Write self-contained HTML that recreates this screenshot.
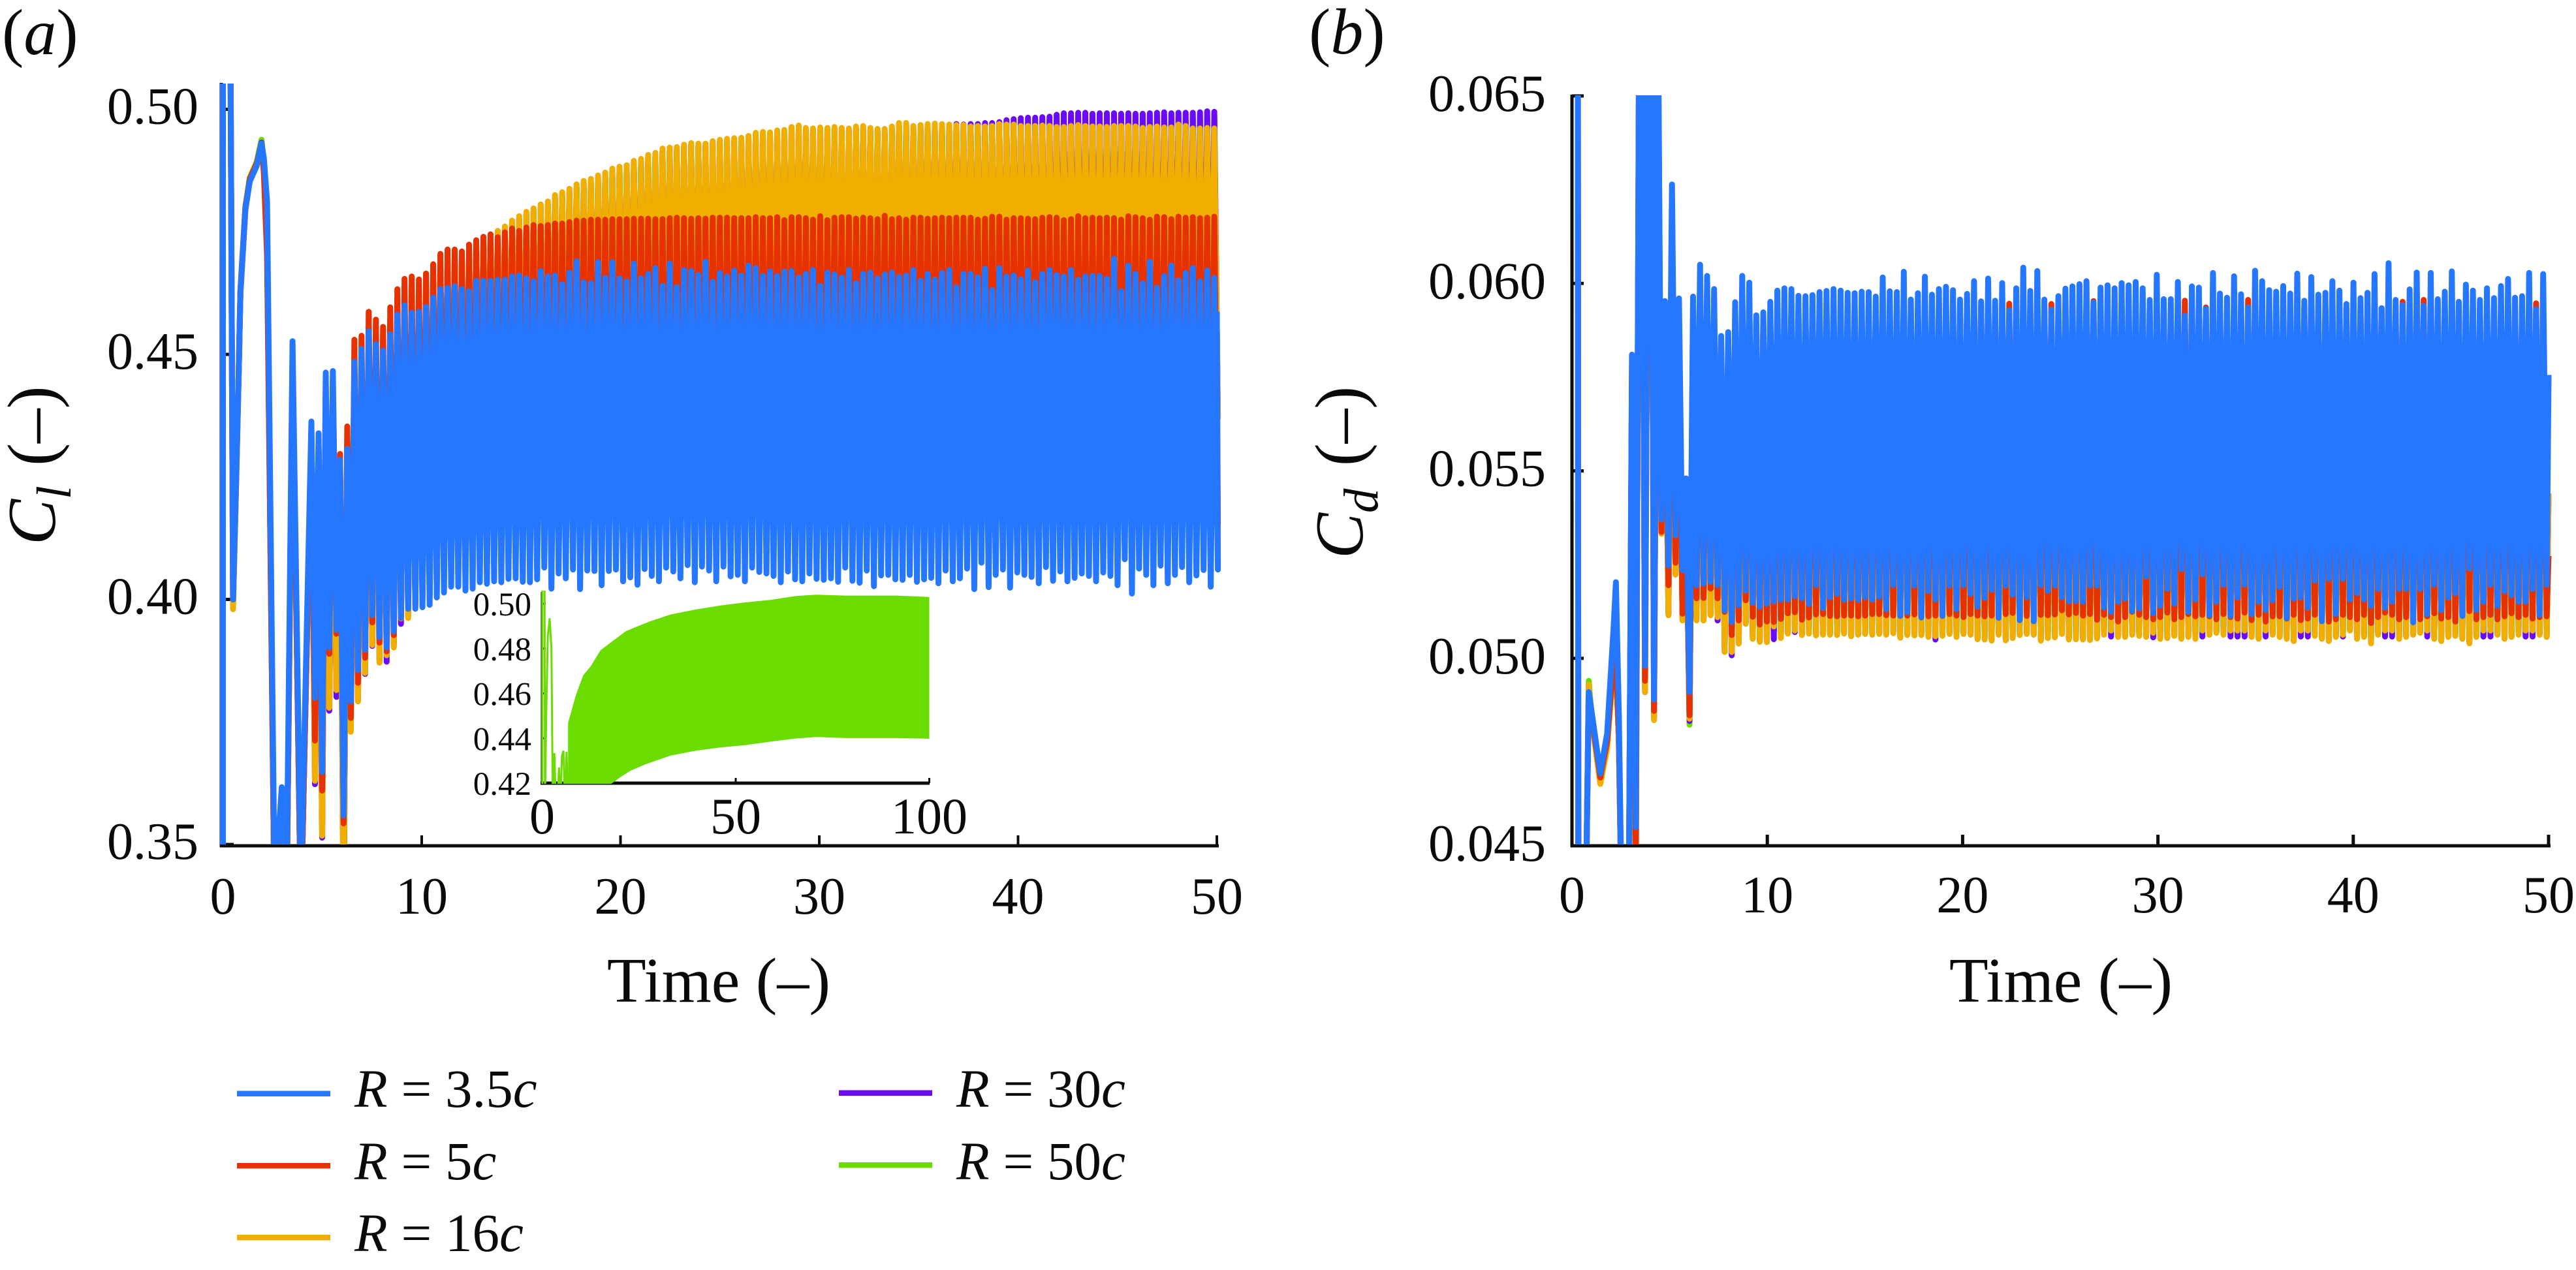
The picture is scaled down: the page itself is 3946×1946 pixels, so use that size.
<!DOCTYPE html>
<html lang="en">
<head>
<meta charset="utf-8">
<title>Lift and drag coefficient histories</title>
<style>
html,body{margin:0;padding:0;background:#fff;width:3946px;height:1946px;overflow:hidden}
svg{display:block}
text{font-family:"Liberation Serif",serif;fill:#0a0a0a}
.it{font-style:italic}
</style>
</head>
<body>
<svg id="figure" xmlns="http://www.w3.org/2000/svg" width="3946" height="1946" viewBox="0 0 3946 1946">
<defs>
<clipPath id="clip-a"><rect x="334" y="128" width="1560" height="1166"/></clipPath>
<clipPath id="clip-b"><rect x="2403" y="146" width="1530" height="1148"/></clipPath>
<clipPath id="clip-in"><rect x="828" y="905" width="600" height="296"/></clipPath>
</defs>
<rect width="3946" height="1946" fill="#fff"/>
<text x="3" y="83" font-size="100">(<tspan class="it">a</tspan>)</text>
<text x="2005" y="82" font-size="100">(<tspan class="it">b</tspan>)</text>
<text transform="translate(84,835) rotate(-90)" font-size="105"><tspan class="it">C</tspan><tspan class="it" font-size="75" dy="24">l</tspan><tspan dy="-24" dx="4"> (–)</tspan></text>
<text transform="translate(2087,856) rotate(-90)" font-size="105"><tspan class="it">C</tspan><tspan class="it" font-size="75" dy="23">d</tspan><tspan dy="-23" dx="8"> (–)</tspan></text>
<text x="1101" y="1535" font-size="98" text-anchor="middle">Time (–)</text>
<text x="3157" y="1535" font-size="98" text-anchor="middle">Time (–)</text>
<g id="axes-a"></g>
<g id="axes-b"></g>
<g id="plot-a" clip-path="url(#clip-a)" fill="none" stroke-linejoin="round" stroke-linecap="butt"></g>
<g id="plot-b" clip-path="url(#clip-b)" fill="none" stroke-linejoin="round" stroke-linecap="butt"></g>
<g id="axes-in"></g>
<g id="plot-in" clip-path="url(#clip-in)"></g>
<g>
<g><rect x="363" y="1671.5" width="143" height="8.5" fill="#2577FF"/><text x="543" y="1696" font-size="83"><tspan class="it">R</tspan> = 3.5<tspan class="it">c</tspan></text></g>
<g><rect x="363" y="1782" width="143" height="8.5" fill="#E63200"/><text x="543" y="1807" font-size="83"><tspan class="it">R</tspan> = 5<tspan class="it">c</tspan></text></g>
<g><rect x="363" y="1892" width="143" height="8.5" fill="#F0AE00"/><text x="543" y="1917" font-size="83"><tspan class="it">R</tspan> = 16<tspan class="it">c</tspan></text></g>
<g><rect x="1285" y="1670.5" width="143" height="8.5" fill="#6A0AF7"/><text x="1465" y="1696" font-size="83"><tspan class="it">R</tspan> = 30<tspan class="it">c</tspan></text></g>
<g><rect x="1285" y="1781" width="143" height="8.5" fill="#6BDC00"/><text x="1465" y="1807" font-size="83"><tspan class="it">R</tspan> = 50<tspan class="it">c</tspan></text></g>
</g>
</svg>
<script>
/* ---- Tick labels ---- */
const aXTicks=[0,10,20,30,40,50];
const aYTicks=['0.35','0.40','0.45','0.50'];
const bXTicks=[0,10,20,30,40,50];
const bYTicks=['0.045','0.050','0.055','0.060','0.065'];
const inXTicks=[0,50,100];
const inYTicks=['0.42','0.44','0.46','0.48','0.50'];

/* ---- Panel (a): start-up transient ---- */
const aTransT=[0,0,.28,.51,.66,.80,.88,1.13,1.35,1.70,1.94,2.06,2.22,2.60,2.96,3.20,3.50,3.92];
const aTransBlue=[.34,.60,.60,.400,.424,.4477,.4627,.4797,.4853,.4885,.4930,.4900,.4812,.34,.3617,.34,.4527,.34];
const aTransRed=[.34,.60,.60,.400,.424,.4480,.4630,.4800,.4858,.4890,.4928,.4870,.4700,.335,.3580,.335,.4500,.335];
const aTransOrange=[.34,.60,.60,.398,.423,.4475,.4625,.4795,.4855,.4888,.4930,.4880,.4720,.335,.3590,.335,.4490,.335];
const aTransPurple=[.34,.60,.60,.399,.423,.4475,.4625,.4795,.4856,.4889,.4932,.4885,.4730,.335,.3590,.335,.4490,.335];
const aTransGreen=[.34,.60,.60,.399,.424,.4480,.4632,.4802,.4860,.4893,.4938,.4890,.4740,.335,.3590,.335,.4490,.335];

/* ---- Panel (a): oscillation crests and troughs, one value per shedding cycle ---- */
const aCycleStart=4.45;
const aCyclePeriod=.3605;
const aBlueHi=[.4363,.4339,.4463,.4466,.4285,.4307,.4485,.4511,.4547,.4521,.4508,.4541,.4581,.46,.4585,.4587,.4597,.4616,.4633,.4636,.4639,.4633,.4629,.465,.465,.465,.4652,.4652,.4659,.4661,.4655,.4649,.467,.4659,.4661,.4643,.4667,.469,.4647,.4645,.4688,.4656,.4688,.4655,.4649,.4685,.4655,.4664,
.4676,.4640,.4685,.4637,.4672,.4670,.4662,.4689,.4648,.4666,.4659,.4671,.4661,.4681,.4676,.4660,.4669,.466,.4669,.467,.4657,.4664,.4672,.464,.4667,.4663,.4657,.4672,.4645,.4664,.4667,.4655,.4663,.4667,.4658,.4661,.4672,.465,.4664,.4652,.4666,.4672,.4637,.4664,.4664,.4657,.4675,.4631,.4676,.4659,.4661,.4653,.4671,.4647,.4664,.4672,.4662,.4659,.4672,.4652,.4659,.466,.466,.4654,.4695,.4629,.4681,.4664,.4645,.4689,.4636,.466,.4681,.4651,.4666,.4676,.4649,.4671,.4656];
const aBlueLo=[.3799,.3648,.3902,.3938,.3559,.3792,.3856,.3897,.3968,.3923,.3902,.3935,.3963,.3981,.3981,.3984,.3989,.4004,.4014,.4026,.4026,.4018,.4022,.4035,.4032,.4037,.4035,.4042,.4043,.4036,.4035,.4041,.4065,.4022,.4053,.4043,.4061,.4021,.4059,.4058,.4029,.4058,.4061,.4037,.4045,.4030,.4062,.4048,
.4037,.4065,.4057,.4043,.4070,.4035,.4067,.4059,.4037,.4067,.4047,.4050,.4037,.4065,.4056,.4053,.4048,.4035,.4057,.4041,.4037,.4053,.4042,.4040,.4043,.4036,.4065,.4038,.4034,.4059,.4027,.4049,.4050,.4041,.4040,.4050,.4036,.4041,.4044,.4033,.4059,.4037,.4043,.4063,.4021,.4075,.4025,.4050,.4061,.4024,.4055,.4050,.4046,.4033,.4066,.4038,.4057,.4037,.4044,.4053,.4048,.4037,.4055,.4048,.4029,.4082,.4012,.4063,.4050,.4029,.4069,.4033,.4050,.4066,.4035,.4049,.4060,.4026,.4061];
const aRedHi=[.4340,.4320,.4440,.4450,.4297,.4353,.4530,.4538,.4587,.4571,.4556,.4596,.4633,.4654,.4659,.4653,.4665,.4684,.4705,.4714,.4714,.4710,.4724,.4733,.4740,.4745,.4739,.4749,.4757,.4752,.4759,.4764,.4762,.4764,.4767,.4767,.4770,.4773,.4773,.4775,.4775,.4775,.4776,.4776,.4776,.4777,.4777,.4777,
.4776,.4776,.4778,.4779,.4778,.4777,.4778,.4777,.4779,.4779,.4779,.4778,.4778,.4778,.4780,.4778,.4778,.4780,.4774,.4780,.4780,.4778,.4775,.4782,.4774,.4779,.4780,.4780,.4777,.4779,.4778,.4776,.4783,.4776,.4778,.4775,.4779,.4779,.4777,.4778,.4779,.4778,.4779,.4779,.4779,.4775,.4777,.4781,.4781,.4775,.4778,.4778,.4777,.4776,.4779,.4780,.4779,.4774,.4776,.4782,.4778,.4779,.4778,.4779,.4778,.4775,.4782,.4780,.4778,.4775,.4781,.4780,.4776,.4781,.4779,.4780,.4778,.4779,.4781];
const aRedLo=[.3712,.3610,.3889,.3930,.3543,.3758,.3830,.3881,.3953,.3912,.3894,.3927,.3962,.3985,.3990,.3995,.4005,.4015,.4025,.4040,.4045,.4050,.4055,.4060,.4065,.4070,.4075,.4080,.4085,.4090,.4095,.4100,.4105,.4110,.4112,.4115,.4118,.4120,.4122,.4125,.4128,.4130,.4132,.4135,
.4136,.4138,.4140,.4141,.4143,.4144,.4143,.4146,.4145,.4147,.4146,.4148,.4147,.4149,.4148,.4147,.4150,.4148,.4150,.4149,.4151,.4149,.4148,.4151,.4152,.4150,.4151,.4149,.4152,.4151,.4153,.4151,.4150,.4153,.4152,.4150,.4153,.4151,.4153,.4152,.4154,.4152,.4151,.4153,.4152,.4154,.4152,.4151,.4154,.4152,.4153,.4154,.4152,.4153,.4151,.4154,.4152,.4154,.4152,.4153,.4151,.4154,.4152,.4152,.4154,.4153,.4151,.4154,.4152,.4152,.4154,.4153,.4152,.4154,.4152,.4151,.4154,.4153,.4152,.4154,.4152,.4153,.4152];
const aOrangeHi=[.4340,.4310,.4430,.4420,.4280,.4320,.4460,.4480,.4530,.4520,.4510,.4560,.4600,.4625,.4635,.4630,.4640,.4665,.4680,.4695,.4700,.4700,.4715,.4725,.4735,.4740,.4752,.4761,.4773,.4782,.4791,.4798,.4806,.4812,.4825,.4831,.4838,.4847,.4854,.4858,.4865,.4871,.4879,.4883,.4886,.4895,.4899,.4907,
.4911,.4920,.4922,.4923,.4928,.4931,.4930,.4930,.4935,.4938,.4940,.4941,.4942,.4946,.4952,.4954,.4953,.4957,.4958,.4964,.4967,.4962,.4961,.4963,.4962,.4964,.4962,.4961,.4965,.4966,.4962,.4960,.4960,.4965,.4972,.4972,.4966,.4968,.4970,.4971,.4970,.4969,.4968,.4968,.4965,.4966,.4965,.4966,.4970,.4969,.4969,.4966,.4966,.4966,.4967,.4966,.4964,.4964,.4966,.4968,.4966,.4965,.4965,.4964,.4966,.4966,.4966,.4965,.4962,.4964,.4965,.4963,.4963,.4969,.4966,.4961,.4961,.4962,.4961];
const aOrangeLo=[.3630,.3518,.3779,.3815,.3350,.3730,.3792,.3850,.3907,.3871,.3886,.3902,.3961,.3962,.3990,.4010,.4040,.4070,.4100,.4120,.4150,.4170,.4190,.4210,.4230,.4240,.4255,.4270,.4280,.4290,.4300,.4305,.4310,.4315,.4320,.4325,.4330,.4330,.4335,.4335,.4340,.4340,.4340,.4345,
.4345,.4348,.4350,.4352,.4355,.4357,.4356,.4360,.4358,.4362,.4360,.4363,.4361,.4365,.4364,.4362,.4366,.4364,.4367,.4365,.4368,.4366,.4365,.4368,.4370,.4367,.4369,.4366,.4370,.4368,.4371,.4369,.4367,.4372,.4370,.4368,.4371,.4369,.4372,.4370,.4373,.4371,.4369,.4372,.4370,.4374,.4371,.4369,.4373,.4370,.4372,.4374,.4370,.4372,.4369,.4373,.4371,.4374,.4370,.4372,.4369,.4373,.4371,.4370,.4374,.4372,.4369,.4373,.4371,.4370,.4374,.4372,.4370,.4373,.4371,.4369,.4374,.4372,.4370,.4373,.4371,.4372,.4370];
const aPurpleHi=[.4335,.4305,.4425,.4415,.4275,.4315,.4455,.4475,.4525,.4515,.4505,.4555,.4595,.4620,.4630,.4625,.4635,.4660,.4675,.4690,.4695,.4695,.4710,.4720,.4730,.4735,.4745,.4755,.4767,.4776,.4785,.4792,.4800,.4806,.4819,.4825,.4832,.4841,.4848,.4852,.4859,.4865,.4873,.4877,.4880,.4889,.4893,.4901,
.4906,.4915,.4917,.4918,.4923,.4926,.4925,.4925,.4930,.4933,.4935,.4936,.4937,.4941,.4947,.4949,.4948,.4952,.4953,.4959,.4962,.4957,.4956,.4958,.4957,.4959,.4957,.4956,.4960,.4961,.4957,.4955,.4955,.4960,.4967,.4967,.4961,.4963,.4965,.4966,.4965,.4964,
.4970,.4969,.4970,.4970,.4972,.4972,.4974,.4978,.4980,.4982,.4983,.4983,.4984,.4985,.4989,.4992,.4992,.4993,.4993,.4991,.4992,.4992,.4992,.4991,.4992,.4991,.4991,.4992,.4993,.4994,.4992,.4993,.4993,.4993,.4994,.4996,.4995];
const aPurpleLo=[.3623,.3514,.3773,.3801,.3340,.3735,.3795,.3848,.3905,.3875,.3873,.3905,.3950,.3965,.3992,.4012,.4042,.4072,.4102,.4122,.4152,.4172,.4192,.4212,.4232,.4242,.4257,.4272,.4282,.4292,.4302,.4307,.4312,.4317,.4322,.4327,.4332,.4332,.4337,.4337,.4342,.4342,.4342,.4347,
.4347,.4350,.4352,.4354,.4357,.4359,.4358,.4362,.4360,.4364,.4362,.4365,.4363,.4367,.4366,.4364,.4368,.4366,.4369,.4367,.4370,.4368,.4367,.4370,.4372,.4369,.4371,.4368,.4372,.4370,.4373,.4371,.4369,.4374,.4372,.4370,.4373,.4371,.4374,.4372,.4375,.4373,.4371,.4374,.4372,.4376,.4373,.4371,.4375,.4372,.4374,.4376,.4372,.4374,.4371,.4375,.4373,.4376,.4372,.4374,.4371,.4375,.4373,.4372,.4376,.4374,.4371,.4375,.4373,.4372,.4376,.4374,.4372,.4375,.4373,.4371,.4376,.4374,.4372,.4375,.4373,.4374,.4372];
const aGreenHi=[.4330,.4300,.4420,.4410,.4270,.4310,.4450,.4470,.4520,.4510,.4500,.4550,.4590,.4615,.4625,.4620,.4630,.4655,.4670,.4685,.4690,.4690,.4705,.4715,.4725,.4730,.4740,.4750,.4762,.4771,.4780,.4787,.4795,.4801,.4814,.4820,.4827,.4836,.4843,.4847,.4854,.4860,.4868,.4872,.4875,.4884,.4888,.4896,
.4901,.4910,.4912,.4913,.4918,.4921,.4920,.4920,.4925,.4928,.4930,.4931,.4932,.4936,.4942,.4944,.4943,.4947,.4948,.4954,.4957,.4952,.4951,.4953,.4952,.4954,.4952,.4951,.4955,.4956,.4952,.4950,.4950,.4955,.4962,.4962,.4956,.4958,.4960,.4961,.4960,.4959,
.4962,.4961,.4963,.4964,.4965,.4966,.4968,.4970,.4972,.4973,.4975,.4976,.4976,.4977,.4979,.4981,.4982,.4983,.4983,.4982,.4983,.4982,.4983,.4982,.4983,.4983,.4982,.4983,.4984,.4984,.4983,.4984,.4984,.4984,.4985,.4986,.4985];
const aGreenLo=[.3640,.3530,.3790,.3825,.3360,.3745,.3805,.3860,.3915,.3885,.3895,.3915,.3965,.3975,.3995,.4015,.4045,.4075,.4105,.4125,.4155,.4175,.4195,.4215,.4235,.4245,.4260,.4275,.4285,.4295,.4305,.4310,.4315,.4320,.4325,.4330,.4335,.4335,.4340,.4340,.4345,.4345,.4345,.4350,
.4350,.4353,.4355,.4357,.4360,.4362,.4361,.4365,.4363,.4367,.4365,.4368,.4366,.4370,.4369,.4367,.4371,.4369,.4372,.4370,.4373,.4371,.4370,.4373,.4375,.4372,.4374,.4371,.4375,.4373,.4376,.4374,.4372,.4377,.4375,.4373,.4376,.4374,.4377,.4375,.4378,.4376,.4374,.4377,.4375,.4379,.4376,.4374,.4378,.4375,.4377,.4379,.4375,.4377,.4374,.4378,.4376,.4379,.4375,.4377,.4374,.4378,.4376,.4375,.4379,.4377,.4374,.4378,.4376,.4375,.4379,.4377,.4375,.4378,.4376,.4374,.4379,.4377,.4375,.4378,.4376,.4377,.4375];
const aEndValues=[.4587,.4500,.4500,.4520,.4520];

/* ---- Panel (b): start-up transient ---- */
const bTransT=[.29,.33,.62,.86,1.00,1.45,1.80,2.13,2.25,2.40,2.64,2.87,3.07,3.27,3.50,3.74,4.00,4.20];
const bTransBlue=[.075,.040,.040,.0491,.0486,.04693,.0480,.0508,.05203,.0485,.040,.040,.0581,.0455,.075,.0498,.075,.0489];
const bTransRed=[.075,.040,.040,.0490,.0485,.04682,.0478,.0500,.0500,.0480,.040,.040,.0578,.0445,.075,.0494,.075,.0486];
const bTransOrange=[.075,.040,.040,.0493,.0484,.04665,.0476,.0499,.0499,.0478,.040,.040,.0575,.0440,.075,.0491,.075,.04835];
const bTransPurple=[.075,.040,.040,.0492,.0485,.04670,.0477,.0499,.0499,.0478,.040,.040,.0575,.0442,.075,.0491,.075,.0484];
const bTransGreen=[.075,.040,.040,.0494,.0485,.04675,.0477,.0499,.0499,.0478,.040,.040,.0575,.0442,.075,.0492,.075,.0485];

/* ---- Panel (b): oscillation crests and troughs ---- */
const bCycleStart=4.40;
const bCyclePeriod=.3597;
const bBlueHi=[.0680,.05953,.06264,.0596,.0548,.05965,.0605,.0602,.05985,.0586,.0587,.0595,.0602,.06002,
.05915,.05923,.05951,.05981,.05987,.05985,.05967,.05966,.05969,.05977,.05980,.05985,.05981,.05975,.05974,.05978,.05977,.05965,.06016,.05979,.05977,.06031,.05957,.05974,.06018,.05970,.05985,.05991,.05982,.05957,.05972,.06006,.05952,.06013,.05954,.06001,.05928,.05987,.06042,.05980,.06033,.05957,.05930,.05966,.05986,.05992,.05998,.06006,.05949,.05989,
.05995,.05987,.06001,.05995,.06004,.05987,.05956,.06023,.05958,.05958,.06004,.05914,.05992,.05989,.05932,.06028,.05973,.05962,.06019,.05971,.05936,.06034,.06006,.05982,.05978,.05993,.05973,.06026,.05954,.06017,.05970,.05975,.06006,.05981,.05945,.06002,.05961,.05975,.06025,.05934,.06054,.05956,.05942,.05984,.06029,.05940,.06028,.05958,.05978,.06032,.05951,.05997,.05981,.05956,.05987,.05961,.05993,.06012,.05962,.05966,.06028,.05931,.06025];
const bBlueLo=[.0537,.05248,.05328,.05235,.04910,.05195,.05199,.05204,.05195,.05128,.05097,.05141,.05181,
.05148,.05138,.05146,.05152,.05156,.05157,.05166,.05160,.05145,.05195,.05134,.05163,.05172,.05156,.0516,.05157,.05163,.05157,.05164,.05131,.05195,.05113,.05123,.05194,.05109,.05179,.05157,.05113,.05194,.05131,.05195,.05172,.05138,.05161,.05183,.05108,.05194,.0517,.05102,.05163,.05099,.05195,.0518,.05194,.05163,.05152,.05153,.05151,.05194,.05194,
.05135,.05124,.05151,.05159,.05126,.05133,.05218,.05120,.05140,.05185,.05146,.05238,.05124,.05157,.05224,.05115,.05151,.05196,.05113,.05162,.05196,.05118,.05151,.05129,.05155,.05190,.05107,.05159,.05162,.05135,.05207,.05099,.05212,.05118,.05212,.05157,.05174,.05157,.0514,.05185,.05135,.05151,.05185,.05185,.05096,.05185,.05118,.05196,.05129,.05162,.05174,.05113,.0524,.05129,.05151,.05196,.0514,.05179,.05168,.05151,.05151,.05185,.05116,.05196];
const bRedHi=[.0672,.0590,.0622,.0592,.0546,.0593,.0600,.0598,.0594,.0584,.0585,.0592,.0598,.0596,
.05900,.05910,.05925,.05930,.05935,.05932,.05930,.05934,.05936,.05930,.05935,.05938,.05934,.05930,.05936,.05932,.05938,.05935,.05940,.05936,.05932,.05938,.05934,.05936,.05940,.05932,.05938,.05936,.05934,.05938,.05932,.05936,.05938,.05934,.05936,.05932,.05946,.05936,.05938,.05934,.05936,.05932,.05945,.05938,.05934,.05936,.05938,.05936,.05953,.05936,
.05938,.05934,.05936,.05932,.05938,.05936,.05934,.05936,.05938,.05932,.05936,.05954,.05934,.05936,.05936,.05934,.05938,.05932,.05936,.05938,.05956,.05934,.05936,.05938,.05932,.05936,.05934,.05938,.05936,.05932,.05938,.05934,.05936,.05938,.05934,.05936,.05932,.05938,.05936,.05934,.05938,.05936,.05951,.05932,.05936,.05956,.05934,.05938,.05936,.05932,.05938,.05934,.05936,.05938,.05932,.05936,.05934,.05938,.05936,.05932,.05938,.05947,.05934];
const bRedLo=[.05337,.05195,.05255,.05119,.04848,.0516,.05161,.05186,.0516,.05124,.05062,.05101,.05155,
.05111,.05090,.05098,.05097,.05105,.05120,.05123,.05103,.05109,.05117,.05118,.05113,.05112,.05114,.05114,.05112,.05114,.05118,.05118,.05115,.05114,.05114,.05114,.05117,.05112,.05112,.05114,.05123,.05118,.05114,.05110,.05118,.05114,.05112,.05114,.05126,.05118,.05121,.05111,.05113,.05111,.05116,.05115,.05117,.05128,.05117,.05121,.05114,.05118,.05103,
.05116,.05110,.05098,.05110,.05124,.05116,.05110,.05104,.05110,.05122,.05104,.05110,.05118,.05112,.05116,.05112,.05104,.05118,.05110,.05106,.05122,.05102,.05116,.05098,.05112,.05112,.05106,.05116,.05102,.05106,.05116,.05112,.05098,.05104,.05116,.05110,.05104,.05116,.05094,.05110,.05122,.05116,.05104,.05110,.05116,.05104,.05112,.05120,.05106,.05110,.05098,.05116,.05126,.05104,.05110,.05116,.05104,.05112,.05120,.05110,.05116,.05106,.05110,.05112];
const bOrangeHi=[.0668,.0587,.0620,.0590,.0544,.0591,.0597,.0595,.0591,.0582,.0583,.0589,.0595,.0593,
.05880,.05890,.05900,.05905,.05910,.05908,.05904,.05910,.05912,.05906,.05910,.05914,.05908,.05904,.05912,.05908,.05914,.05910,.05916,.05912,.05906,.05914,.05908,.05912,.05916,.05906,.05914,.05910,.05908,.05914,.05906,.05912,.05914,.05908,.05912,.05906,.05914,.05910,.05914,.05908,.05912,.05906,.05914,.05912,.05908,.05912,.05914,.05910,.05916,.05910,
.05912,.05908,.05912,.05906,.05914,.05910,.05908,.05912,.05914,.05906,.05912,.05916,.05908,.05910,.05912,.05908,.05914,.05906,.05912,.05914,.05916,.05908,.05912,.05914,.05906,.05910,.05908,.05914,.05912,.05906,.05914,.05908,.05912,.05914,.05908,.05910,.05906,.05914,.05912,.05908,.05914,.05910,.05914,.05906,.05912,.05916,.05908,.05914,.05910,.05906,.05914,.05908,.05912,.05914,.05906,.05910,.05908,.05914,.05912,.05906,.05914,.05912,.05895];
const bOrangeLo=[.05332,.05115,.05223,.05101,.04839,.05101,.05101,.05115,.05110,.05017,.05017,.05039,.05092,
.05052,.05044,.05043,.05085,.05054,.05066,.05074,.05062,.05066,.05061,.05063,.05063,.05062,.05066,.05059,.05063,.05065,.05063,.05065,.05063,.05067,.05055,.05062,.05061,.05062,.05057,.05059,.05060,.05065,.05057,.05065,.05063,.05051,.05050,.05047,.05063,.05048,.05054,.05062,.05065,.05063,.05047,.05054,.05056,.05065,.05050,.05051,.05050,.05049,.05053,
.05063,.05074,.05057,.05057,.05063,.05060,.05057,.05068,.05052,.05054,.05060,.05052,.05057,.05052,.05074,.05063,.05068,.05063,.05074,.05074,.05074,.05057,.05052,.05074,.05063,.05057,.05052,.05046,.05074,.05074,.05060,.05052,.05046,.05057,.05063,.05074,.05052,.05057,.05040,.05063,.05074,.05074,.05052,.05057,.05063,.05068,.05074,.05052,.05046,.05057,.05060,.05052,.05040,.05057,.05074,.05074,.05063,.05052,.05057,.05063,.05074,.05074,.05063,.05057];
const bPurpleHi=[.0665,.0585,.0618,.0588,.0543,.0589,.0595,.0593,.0590,.0581,.0582,.0588,.0594,.0592,
.05870,.05880,.05890,.05895,.05900,.05898,.05894,.05900,.05902,.05896,.05900,.05904,.05898,.05894,.05902,.05898,.05904,.05900,.05906,.05902,.05896,.05904,.05898,.05902,.05906,.05896,.05904,.05900,.05898,.05904,.05896,.05902,.05904,.05898,.05902,.05896,.05904,.05900,.05904,.05898,.05902,.05896,.05904,.05902,.05898,.05902,.05904,.05900,.05906,.05900,
.05902,.05898,.05902,.05896,.05904,.05900,.05898,.05902,.05904,.05896,.05902,.05906,.05898,.05900,.05902,.05898,.05904,.05896,.05902,.05904,.05906,.05898,.05902,.05904,.05896,.05900,.05898,.05904,.05902,.05896,.05904,.05898,.05902,.05904,.05898,.05900,.05896,.05904,.05902,.05898,.05904,.05900,.05904,.05896,.05902,.05906,.05898,.05904,.05900,.05896,.05904,.05898,.05902,.05904,.05896,.05900,.05898,.05904,.05902,.05896,.05904,.05902,.05902];
const bPurpleLo=[.05335,.05118,.05226,.05104,.04833,.05104,.05104,.05118,.05101,.05020,.05008,.05042,.05095,
.05055,.05047,.05046,.05051,.05057,.05069,.05070,.05065,.05069,.05064,.05066,.05066,.05065,.05069,.05062,.05066,.05068,.05066,.05068,.05066,.05070,.05058,.05065,.05064,.05065,.05060,.05050,.05063,.05068,.05060,.05068,.05066,.05054,.05053,.05050,.05066,.05051,.05057,.05065,.05068,.05066,.05050,.05057,.05059,.05068,.05053,.05054,.05053,.05052,.05056,
.05066,.05058,.05060,.05060,.05066,.05063,.05060,.05056,.05055,.05057,.05063,.05055,.05060,.05055,.05058,.05066,.05071,.05066,.05058,.05058,.05058,.05060,.05055,.05058,.05066,.05060,.05055,.05049,.05058,.05058,.05063,.05055,.05049,.05060,.05058,.05077,.05055,.05060,.05043,.05066,.05058,.05058,.05055,.05060,.05066,.05071,.05058,.05055,.05049,.05060,.05063,.05055,.05043,.05060,.05058,.05058,.05066,.05055,.05060,.05066,.05058,.05058,.05066,.05060];
const bGreenHi=[.0662,.0583,.0616,.0586,.0542,.0587,.0593,.0591,.0588,.0580,.0581,.0586,.0592,.0590,
.05860,.05870,.05880,.05885,.05890,.05888,.05884,.05890,.05892,.05886,.05890,.05894,.05888,.05884,.05892,.05888,.05894,.05890,.05896,.05892,.05886,.05894,.05888,.05892,.05896,.05886,.05894,.05890,.05888,.05894,.05886,.05892,.05894,.05888,.05892,.05886,.05894,.05890,.05894,.05888,.05892,.05886,.05894,.05892,.05888,.05892,.05894,.05890,.05896,.05890,
.05892,.05888,.05892,.05886,.05894,.05890,.05888,.05892,.05894,.05886,.05892,.05896,.05888,.05890,.05892,.05888,.05894,.05886,.05892,.05894,.05896,.05888,.05892,.05894,.05886,.05890,.05888,.05894,.05892,.05886,.05894,.05888,.05892,.05894,.05888,.05890,.05886,.05894,.05892,.05888,.05894,.05890,.05894,.05886,.05892,.05896,.05888,.05894,.05890,.05886,.05894,.05888,.05892,.05894,.05886,.05890,.05888,.05894,.05892,.05886,.05894,.05892,.05892];
const bGreenLo=[.05340,.05122,.05230,.05108,.04823,.05108,.05108,.05122,.05118,.05024,.05024,.05046,.05100,
.05060,.05052,.05050,.05090,.05060,.05072,.05080,.05068,.05072,.05066,.05068,.05068,.05068,.05072,.05064,.05068,.05070,.05068,.05070,.05068,.05072,.05060,.05068,.05066,.05068,.05062,.05064,.05066,.05070,.05062,.05070,.05068,.05056,.05055,.05052,.05068,.05053,.05060,.05068,.05070,.05068,.05052,.05060,.05062,.05070,.05055,.05056,.05055,.05054,.05058,
.05068,.05080,.05062,.05062,.05068,.05066,.05062,.05074,.05058,.05060,.05066,.05058,.05062,.05058,.05080,.05068,.05074,.05068,.05080,.05080,.05080,.05062,.05058,.05080,.05068,.05062,.05058,.05052,.05080,.05080,.05066,.05058,.05058,.05062,.05068,.05080,.05058,.05062,.05046,.05068,.05080,.05080,.05058,.05062,.05068,.05074,.05080,.05058,.05052,.05062,.05066,.05058,.05046,.05062,.05058,.05080,.05068,.05058,.05062,.05068,.05080,.05080,.05068,.05058];
const bEndValues=[.05756,.05273,.05440,.05440,.05440];

/* ---- Inset: R = 50c over the long window ---- */
const inUpperT=[6.7,8.7,10.6,12.5,15.1,17.7,21.6,24.2,28.0,33.2,39.7,46.1,52.6,59.0,65.5,70.7,78.4,91.3,100];
const inUpperV=[.4469,.4592,.4681,.4720,.4793,.4827,.4877,.4896,.4922,.4952,.4974,.4992,.5006,.5017,.5034,.5040,.5036,.5036,.5030];
const inLowerT=[6.7,17.7,20.3,22.9,26.7,33.2,39.7,46.1,52.6,59.0,65.5,70.7,78.4,91.3,100];
const inLowerV=[.4180,.4195,.4228,.4256,.4284,.4323,.4345,.4359,.4370,.4385,.4399,.4406,.4401,.4401,.4398];
const inTransT=[.05,.05,.62,.72,1.05,1.45,1.94,2.4,2.75,3.15,3.55,3.95,4.35,4.75,5.1,5.5,5.9,6.3,6.7];
const inTransV=[.41,.51,.51,.41,.45,.4853,.4935,.4800,.41,.4334,.41,.41,.4270,.41,.4320,.4345,.41,.4340,.41];

/* ---- Scales ---- */
function xA(t){return 341.5+30.45*t;}
function yA(v){return 1294-(v-.35)*7510;}
function xB(t){return 2408+29.92*t;}
function yB(v){return 1296-(v-.045)*57450;}
function xIn(t){return 830.5+5.93*t;}
function yIn(v){return 1200-(v-.42)*3437.5;}

const NS='http://www.w3.org/2000/svg';
function mk(tag,parent){const e=document.createElementNS(NS,tag);parent.appendChild(e);return e;}
function bar(parent,x1,y1,x2,y2,w){
  const l=mk('line',parent);
  l.setAttribute('x1',x1);l.setAttribute('y1',y1);l.setAttribute('x2',x2);l.setAttribute('y2',y2);
  l.setAttribute('stroke','#0d0d0d');l.setAttribute('stroke-width',w);
  return l;
}
function label(parent,x,y,size,anchor,str){
  const t=mk('text',parent);
  t.setAttribute('x',x);t.setAttribute('y',y);t.setAttribute('font-size',size);t.setAttribute('text-anchor',anchor);
  t.textContent=str;
  return t;
}
function drawAxes(g,xf,yf,xTicks,yTicks,opts){
  const spineY=bar(g,opts.x0,opts.top,opts.x0,opts.bottom+2,opts.sw);
  
  
  const spineX=bar(g,opts.x0-2,opts.bottom,opts.x1,opts.bottom,opts.bw);
  
  
  xTicks.forEach(function(v){
    const tk=bar(g,xf(v),opts.bottom,xf(v),opts.bottom-opts.xLen,opts.xtw);
    
    
    const lb=label(g,xf(v)+opts.xShift,opts.xBase,opts.xFont,'middle',String(v));
    
    
  });
  yTicks.forEach(function(s){
    const v=parseFloat(s);
    const tk=bar(g,opts.x0,yf(v),opts.x0+opts.yLen,yf(v),opts.ytw);
    
    
    const lb=label(g,opts.yRight,yf(v)+opts.yDrop,opts.yFont,'end',s);
    
    
  });
}
function oscillation(xf,yf,transT,transV,start,period,hi,lo,endV){
  const pts=[];
  transT.forEach(function(t,i){pts.push([xf(t),yf(transV[i])]);});
  hi.forEach(function(v,i){
    const t=start+period*i;
    pts.push([xf(t),yf(v)]);
    if(i<lo.length){pts.push([xf(t+period/2),yf(lo[i])]);}
  });
  pts.push([xf(50),yf(endV)]);
  return 'M'+pts.map(function(p){return p[0].toFixed(1)+' '+p[1].toFixed(1);}).join('L');
}
function drawSeries(g,d,color){
  const p=mk('path',g);
  p.setAttribute('d',d);
  p.setAttribute('stroke',color);
  p.setAttribute('stroke-width',9);
  return p;
}

/* ---- Axes ---- */
drawAxes(document.getElementById('axes-a'),xA,yA,aXTicks,aYTicks,{x0:339,x1:1867,top:127,bottom:1296,sw:5,bw:5,xLen:16,xtw:4,ytw:5,yLen:19,xBase:1400,xFont:80,xShift:0,yRight:304,yDrop:22,yFont:80});
drawAxes(document.getElementById('axes-b'),xB,yB,bXTicks,bYTicks,{x0:2408,x1:3907,top:145,bottom:1296,sw:5,bw:5,xLen:17,xtw:5,ytw:5,yLen:18,xBase:1398,xFont:80,xShift:0,yRight:2368,yDrop:23,yFont:80});
drawAxes(document.getElementById('axes-in'),xIn,yIn,inXTicks,inYTicks,{x0:830,x1:1424,top:907,bottom:1200,sw:3,bw:5,xLen:8,xtw:3,ytw:3,yLen:6,xBase:1277,xFont:78,xShift:0,yRight:814,yDrop:18,yFont:51});

/* ---- Panel (a) series, drawn bottom to top ---- */
const plotA=document.getElementById('plot-a');
const aGreenPath=drawSeries(plotA,oscillation(xA,yA,aTransT,aTransGreen,aCycleStart,aCyclePeriod,aGreenHi,aGreenLo,aEndValues[4]),'#6BDC00');


const aPurplePath=drawSeries(plotA,oscillation(xA,yA,aTransT,aTransPurple,aCycleStart,aCyclePeriod,aPurpleHi,aPurpleLo,aEndValues[3]),'#6A0AF7');


const aOrangePath=drawSeries(plotA,oscillation(xA,yA,aTransT,aTransOrange,aCycleStart,aCyclePeriod,aOrangeHi,aOrangeLo,aEndValues[2]),'#F0AE00');


const aRedPath=drawSeries(plotA,oscillation(xA,yA,aTransT,aTransRed,aCycleStart,aCyclePeriod,aRedHi,aRedLo,aEndValues[1]),'#E63200');


const aBluePath=drawSeries(plotA,oscillation(xA,yA,aTransT,aTransBlue,aCycleStart,aCyclePeriod,aBlueHi,aBlueLo,aEndValues[0]),'#2577FF');



/* ---- Panel (b) series ---- */
const plotB=document.getElementById('plot-b');
const bGreenPath=drawSeries(plotB,oscillation(xB,yB,bTransT,bTransGreen,bCycleStart,bCyclePeriod,bGreenHi,bGreenLo,bEndValues[4]),'#6BDC00');


const bPurplePath=drawSeries(plotB,oscillation(xB,yB,bTransT,bTransPurple,bCycleStart,bCyclePeriod,bPurpleHi,bPurpleLo,bEndValues[3]),'#6A0AF7');


const bOrangePath=drawSeries(plotB,oscillation(xB,yB,bTransT,bTransOrange,bCycleStart,bCyclePeriod,bOrangeHi,bOrangeLo,bEndValues[2]),'#F0AE00');


const bRedPath=drawSeries(plotB,oscillation(xB,yB,bTransT,bTransRed,bCycleStart,bCyclePeriod,bRedHi,bRedLo,bEndValues[1]),'#E63200');


const bBluePath=drawSeries(plotB,oscillation(xB,yB,bTransT,bTransBlue,bCycleStart,bCyclePeriod,bBlueHi,bBlueLo,bEndValues[0]),'#2577FF');



/* ---- Inset ---- */
const plotIn=document.getElementById('plot-in');
const inBand=mk('path',plotIn);
const upperPts=inUpperT.map(function(t,i){return xIn(t).toFixed(1)+' '+yIn(inUpperV[i]).toFixed(1);});
const lowerPts=inLowerT.map(function(t,i){return xIn(t).toFixed(1)+' '+yIn(inLowerV[i]).toFixed(1);}).reverse();
inBand.setAttribute('d','M'+upperPts.join('L')+'L'+lowerPts.join('L')+'Z');
inBand.setAttribute('fill','#6BDC00');


const inLine=mk('path',plotIn);
inLine.setAttribute('d','M'+inTransT.map(function(t,i){return xIn(t).toFixed(1)+' '+yIn(inTransV[i]).toFixed(1);}).join('L'));
inLine.setAttribute('fill','none');
inLine.setAttribute('stroke','#6BDC00');
inLine.setAttribute('stroke-width',3);


</script>
</body>
</html>
